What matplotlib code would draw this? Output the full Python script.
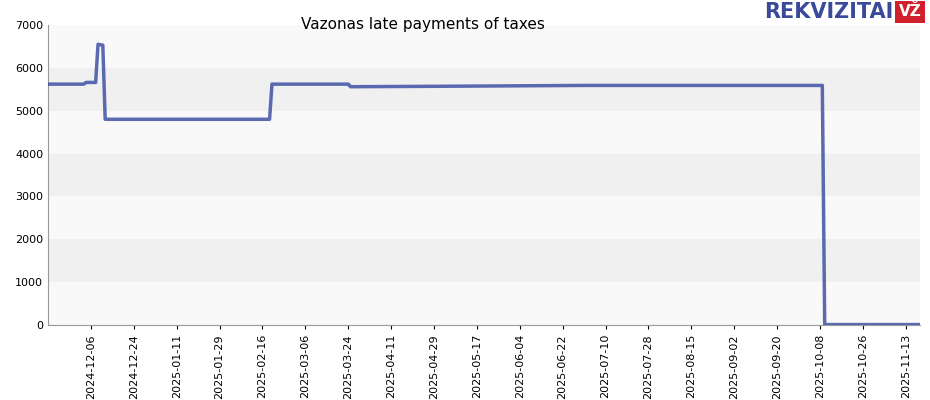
import matplotlib
matplotlib.use("Agg")
import matplotlib.pyplot as plt
import matplotlib.dates as mdates
import numpy as np
import datetime as dt

dates = ["2024-11-18","2024-12-03","2024-12-04","2024-12-08","2024-12-09","2024-12-11","2024-12-12",
         "2025-02-19","2025-02-20","2025-03-24","2025-03-25","2025-05-01","2025-07-01","2025-10-09","2025-10-10","2025-11-19"]
values = [5620,5620,5660,5660,6550,6530,4800,
          4800,5620,5620,5560,5570,5590,5590,10,10]
tick_start = "2024-12-06"
title = "Vazonas late payments of taxes"

x = [dt.datetime.strptime(d, "%Y-%m-%d") for d in dates]
fig = plt.figure(figsize=(9.3, 4.0), dpi=100)
ax = fig.add_axes([48/930, 75/400, 872/930, 300/400])
ax.set_xlim(x[0], x[-1])
ax.set_ylim(0, 7000)
for i in range(7):
    ax.axhspan(i*1000, (i+1)*1000, color="#f0f0f0" if i % 2 == 1 else "#f9f9f9", lw=0, zorder=0)
ax.plot(x, values, color="#3f51a5", lw=2.5, alpha=0.85, zorder=3)
t0 = dt.datetime.strptime(tick_start, "%Y-%m-%d")
ticks = [t0 + dt.timedelta(days=18*k) for k in range(20)]
ax.set_xticks(ticks)
ax.xaxis.set_major_formatter(mdates.DateFormatter("%Y-%m-%d"))
plt.setp(ax.get_xticklabels(), rotation=90, fontsize=8)
ax.set_yticks(range(0, 7001, 1000))
ax.tick_params(axis="y", labelsize=8, length=0)
ax.tick_params(axis="x", length=3)
for s in ["top", "right"]:
    ax.spines[s].set_visible(False)
ax.spines["left"].set_color("#999999")
ax.spines["bottom"].set_color("#999999")
fig.text(423/930, 1-25/400, title, ha="center", va="center", fontsize=11)
fig.text(893/930, 1-12/400, "REKVIZITAI", ha="right", va="center", fontsize=15, fontweight="bold", color="#3a4a9a")
fig.text(910/930, 1-12/400, "VŽ", ha="center", va="center", fontsize=11, fontweight="bold", color="white",
         bbox=dict(boxstyle="square,pad=0.25", fc="#d0202e", ec="none"))
fig.savefig("out.png")
